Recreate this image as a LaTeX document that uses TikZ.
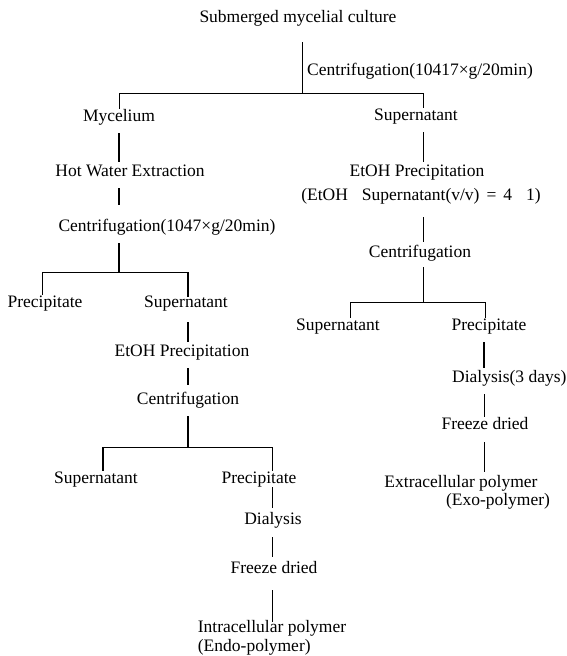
\documentclass[tikz,border=0pt]{standalone}
\usepackage{fontspec}
\setmainfont{Liberation Serif}
\begin{document}
\begin{tikzpicture}[x=1pt,y=-1pt,
  lbl/.style={inner sep=0pt, text height=12pt, text depth=4pt, font=\fontsize{17.5}{19}\selectfont},
  conn/.style={line width=1pt, shorten <=8pt, shorten >=2pt},
  bold/.style={line width=1.8pt},
  barline/.style={line width=1pt}]
\useasboundingbox (0,0) rectangle (567,656);
% column coordinates
\coordinate (cT) at (302,0);
\coordinate (cL) at (119,0);
\coordinate (cM) at (188,0);
\coordinate (cB) at (272,0);
\coordinate (cR) at (423,0);
\coordinate (cS) at (484,0);
% nodes
\node[lbl] (title) at (298,18) {Submerged mycelial culture};
\node[lbl,anchor=west] (cf1) at (307,71) {Centrifugation(10417×g/20min)};
\node[lbl] (mycel) at (119,117) {Mycelium};
\node[lbl] (sup1) at (416,116) {Supernatant};
\node[lbl] (hot) at (130,172) {Hot Water Extraction};
\node[lbl] (cf2) at (167,227) {Centrifugation(1047×g/20min)};
\node[lbl] (prec1) at (45,303) {Precipitate};
\node[lbl] (sup2) at (186,303) {Supernatant};
\node[lbl] (etoh1) at (182,352) {EtOH Precipitation};
\node[lbl] (cf3) at (188,400) {Centrifugation};
\node[lbl] (sup3) at (96,479) {Supernatant};
\node[lbl] (prec2) at (259,479) {Precipitate};
\node[lbl] (dia1) at (273,520) {Dialysis};
\node[lbl] (fd1) at (274,569) {Freeze dried};
\node[lbl] (intra) at (272,628) {Intracellular polymer};
\node[lbl,anchor=west] (endo) at (intra.west |- 0,647) {(Endo-polymer)};
\node[lbl] (etoh2) at (417,172) {EtOH Precipitation};
\node[lbl] (ratio) at (421,196) {(EtOH\hspace{14pt}Supernatant(v/v)\hspace{7pt}=\hspace{7pt}4\hspace{14pt}1)};
\node[lbl] (cf4) at (420,253) {Centrifugation};
\node[lbl] (sup4) at (338,326) {Supernatant};
\node[lbl] (prec3) at (489,326) {Precipitate};
\node[lbl,anchor=west] (dia2) at (452,378) {Dialysis(3 days)};
\node[lbl] (fd2) at (485,425) {Freeze dried};
\node[lbl] (extra) at (461,483) {Extracellular polymer};
\node[lbl] (exo) at (498,501) {(Exo-polymer)};
% junctions
\coordinate (j1) at (302,93);
\coordinate (b1l) at (119,93);
\coordinate (b1r) at (423,93);
\coordinate (j2) at (119,272);
\coordinate (b2l) at (42,272);
\coordinate (b2r) at (188,272);
\coordinate (j3) at (188,447);
\coordinate (b3l) at (103,447);
\coordinate (b3r) at (272,447);
\coordinate (j4) at (423,302);
\coordinate (b4l) at (350,302);
\coordinate (b4r) at (485,302);
% top
\draw[line width=1pt, shorten <=16pt] (title.south -| cT) -- (j1);
\draw[barline] (b1l) -- (b1r);
\draw[barline] (b1l) -- (mycel.north);
\draw[barline] (b1r) -- (b1r |- sup1.north);
% left column
\draw[conn,bold] (mycel.south -| cL) -- (hot.north -| cL);
\draw[conn,bold,shorten >=14pt] (hot.south -| cL) -- (cf2.north -| cL);
\draw[conn,bold,shorten >=0pt] (cf2.south -| cL) -- (j2);
\draw[barline] (b2l) -- (b2r);
\draw[barline] (b2l) -- (b2l |- prec1.north);
\draw[line width=1.4pt] (b2r) -- ([yshift=-2pt]b2r |- sup2.north);
\draw[conn,bold,shorten <=11pt] (sup2.south -| cM) -- (etoh1.north -| cM);
\draw[conn,bold,shorten >=7pt] (etoh1.south -| cM) -- (cf3.north -| cM);
\draw[conn,bold,shorten >=0pt] (cf3.south -| cM) -- (j3);
\draw[barline] (b3l) -- (b3r);
\draw[line width=1.4pt] (b3l) -- (b3l |- sup3.north);
\draw[barline] (b3r) -- (b3r |- prec2.north);
\draw[conn,shorten <=0pt,shorten >=4pt] (prec2.south -| cB) -- (dia1.north -| cB);
\draw[conn,shorten <=9pt,shorten >=4pt] (dia1.south -| cB) -- (fd1.north -| cB);
\draw[conn,shorten <=13pt,shorten >=-2pt] (fd1.south -| cB) -- (intra.north -| cB);
% right column
\draw[conn] (sup1.south -| cR) -- (etoh2.north -| cR);
\draw[conn,shorten <=13pt,shorten >=3pt] (ratio.south -| cR) -- (cf4.north -| cR);
\draw[conn,shorten <=6pt,shorten >=0pt] (cf4.south -| cR) -- (j4);
\draw[barline] (b4l) -- (b4r);
\draw[barline] (b4l) -- (b4l |- sup4.north);
\draw[barline] (b4r) -- (b4r |- prec3.north);
\draw[conn,line width=1.4pt] (prec3.south -| cS) -- (dia2.north -| cS);
\draw[conn,shorten >=0pt] (dia2.south -| cS) -- (fd2.north -| cS);
\draw[conn,shorten <=9pt,shorten >=3pt] (fd2.south -| cS) -- (extra.north -| cS);
\end{tikzpicture}
\end{document}
